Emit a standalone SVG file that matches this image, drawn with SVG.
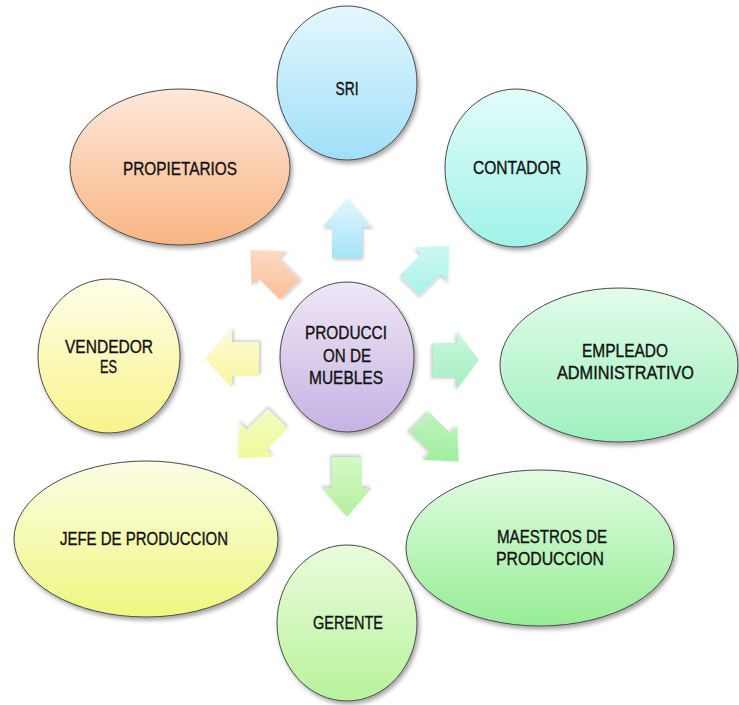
<svg xmlns="http://www.w3.org/2000/svg" width="739" height="705" viewBox="0 0 739 705">
<style>
.n{stroke:#4a4a4a;stroke-width:1;filter:url(#sh)}
.t{font-family:"Liberation Sans","Open Sans",Arial,sans-serif;font-size:18px;fill:#111;stroke:#111;stroke-width:0.35;text-anchor:middle}
.a{filter:url(#ash)}
</style>
<defs>
<filter id="sh" x="-20%" y="-20%" width="140%" height="140%"><feDropShadow dx="2" dy="3" stdDeviation="2" flood-color="#000" flood-opacity="0.35"/></filter>
<filter id="ash" x="-30%" y="-30%" width="160%" height="160%"><feDropShadow dx="1.5" dy="2" stdDeviation="1.5" flood-color="#000" flood-opacity="0.2"/></filter>
<linearGradient id="gSri" x1="0" y1="0" x2="0" y2="1"><stop offset="0" stop-color="#e4f7fe"/><stop offset="1" stop-color="#9fdff8"/></linearGradient>
<linearGradient id="gPro" x1="0" y1="0" x2="0" y2="1"><stop offset="0" stop-color="#fde8da"/><stop offset="1" stop-color="#f9b583"/></linearGradient>
<linearGradient id="gCon" x1="0" y1="0" x2="0" y2="1"><stop offset="0" stop-color="#e2fdf9"/><stop offset="1" stop-color="#9ff3e9"/></linearGradient>
<linearGradient id="gEmp" x1="0" y1="0" x2="0" y2="1"><stop offset="0" stop-color="#e2fcea"/><stop offset="1" stop-color="#9ef0bd"/></linearGradient>
<linearGradient id="gMae" x1="0" y1="0" x2="0" y2="1"><stop offset="0" stop-color="#e2fce2"/><stop offset="1" stop-color="#96ed96"/></linearGradient>
<linearGradient id="gGer" x1="0" y1="0" x2="0" y2="1"><stop offset="0" stop-color="#eafcdc"/><stop offset="1" stop-color="#b8f39c"/></linearGradient>
<linearGradient id="gJef" x1="0" y1="0" x2="0" y2="1"><stop offset="0" stop-color="#fbfde4"/><stop offset="1" stop-color="#eef880"/></linearGradient>
<linearGradient id="gVen" x1="0" y1="0" x2="0" y2="1"><stop offset="0" stop-color="#fffeea"/><stop offset="1" stop-color="#f8f38a"/></linearGradient>
<linearGradient id="gCen" x1="0" y1="0" x2="0" y2="1"><stop offset="0" stop-color="#eee7f5"/><stop offset="1" stop-color="#c6b2e3"/></linearGradient>
<linearGradient id="aUp" x1="0" y1="0" x2="0" y2="1"><stop offset="0" stop-color="#e2f7fe"/><stop offset="1" stop-color="#a6e3f8"/></linearGradient>
<linearGradient id="aUL" x1="1" y1="0" x2="0" y2="1"><stop offset="0" stop-color="#fde2d2"/><stop offset="1" stop-color="#f9bc92"/></linearGradient>
<linearGradient id="aUR" x1="0" y1="0" x2="1" y2="1"><stop offset="0" stop-color="#dcfbf7"/><stop offset="1" stop-color="#a2f1e6"/></linearGradient>
<linearGradient id="aR" x1="0" y1="0" x2="1" y2="0"><stop offset="0" stop-color="#c9f8dc"/><stop offset="1" stop-color="#a4efc4"/></linearGradient>
<linearGradient id="aLR" x1="0" y1="1" x2="1" y2="0"><stop offset="0" stop-color="#c6f5c6"/><stop offset="1" stop-color="#92ec92"/></linearGradient>
<linearGradient id="aD" x1="0" y1="1" x2="0" y2="0"><stop offset="0" stop-color="#d6f9c6"/><stop offset="1" stop-color="#b2f09e"/></linearGradient>
<linearGradient id="aLL" x1="1" y1="1" x2="0" y2="0"><stop offset="0" stop-color="#f4fcc8"/><stop offset="1" stop-color="#eef88e"/></linearGradient>
<linearGradient id="aL" x1="1" y1="0" x2="0" y2="0"><stop offset="0" stop-color="#fdfcd4"/><stop offset="1" stop-color="#f8f4a0"/></linearGradient>
<path id="vArrow" d="M0,-30 L25,-1 L15,-1 L15,30 L-15,30 L-15,-1 L-25,-1 Z"/>
<path id="dArrow" d="M0,-28 L24,-2 L14,-2 L14,28 L-14,28 L-14,-2 L-24,-2 Z"/>
</defs>
<rect width="739" height="705" fill="#fff"/>

<g id="connectors">
<use href="#vArrow" class="a" fill="url(#aUp)" transform="translate(347,228)"/>
<use href="#vArrow" class="a" fill="url(#aD)" transform="translate(347,487) rotate(180)"/>
<path class="a" fill="url(#aL)" d="M0,-27 L29,0 L17,0 L17,27 L-17,27 L-17,0 L-29,0 Z" transform="translate(232,359) rotate(-90)"/>
<path class="a" fill="url(#aR)" d="M0,-23 L29,-1 L17,-1 L17,23 L-17,23 L-17,-1 L-29,-1 Z" transform="translate(456,360) rotate(90)"/>
<use href="#dArrow" class="a" fill="url(#aUL)" transform="translate(270,270) rotate(-45)"/>
<use href="#dArrow" class="a" fill="url(#aUR)" transform="translate(429.5,265.5) rotate(45)"/>
<use href="#dArrow" class="a" fill="url(#aLL)" transform="translate(258,438.5) rotate(-135)"/>
<use href="#dArrow" class="a" fill="url(#aLR)" transform="translate(439,441.5) rotate(135)"/>
</g>

<g id="propietarios">
<ellipse class="n" cx="180" cy="167" rx="110" ry="78" fill="url(#gPro)"/>
<text class="t" x="180" y="175" textLength="114" lengthAdjust="spacingAndGlyphs">PROPIETARIOS</text>
</g>
<g id="sri">
<ellipse class="n" cx="347" cy="83" rx="70" ry="77" fill="url(#gSri)"/>
<text class="t" x="347" y="95" textLength="23" lengthAdjust="spacingAndGlyphs">SRI</text>
</g>
<g id="contador">
<ellipse class="n" cx="516" cy="168" rx="71" ry="79" fill="url(#gCon)"/>
<text class="t" x="517" y="174" textLength="88" lengthAdjust="spacingAndGlyphs">CONTADOR</text>
</g>
<g id="empleado">
<ellipse class="n" cx="619" cy="365" rx="119" ry="77" fill="url(#gEmp)"/>
<text class="t" x="625" y="357" textLength="86" lengthAdjust="spacingAndGlyphs">EMPLEADO</text>
<text class="t" x="625.5" y="379" textLength="137" lengthAdjust="spacingAndGlyphs">ADMINISTRATIVO</text>
</g>
<g id="vendedores">
<ellipse class="n" cx="109" cy="356" rx="71" ry="77" fill="url(#gVen)"/>
<text class="t" x="109" y="353" textLength="88" lengthAdjust="spacingAndGlyphs">VENDEDOR</text>
<text class="t" x="108.5" y="373" textLength="17" lengthAdjust="spacingAndGlyphs">ES</text>
</g>
<g id="centro">
<ellipse class="n" cx="347" cy="357" rx="67" ry="75" fill="url(#gCen)"/>
<text class="t" x="346" y="339" textLength="82" lengthAdjust="spacingAndGlyphs">PRODUCCI</text>
<text class="t" x="347" y="362" textLength="48" lengthAdjust="spacingAndGlyphs">ON DE</text>
<text class="t" x="346" y="384" textLength="74" lengthAdjust="spacingAndGlyphs">MUEBLES</text>
</g>
<g id="jefe">
<ellipse class="n" cx="146" cy="539" rx="132" ry="78" fill="url(#gJef)"/>
<text class="t" x="144" y="545" textLength="168" lengthAdjust="spacingAndGlyphs">JEFE DE PRODUCCION</text>
</g>
<g id="gerente">
<ellipse class="n" cx="347" cy="623" rx="70" ry="78" fill="url(#gGer)"/>
<text class="t" x="348" y="629" textLength="70" lengthAdjust="spacingAndGlyphs">GERENTE</text>
</g>
<g id="maestros">
<ellipse class="n" cx="540" cy="548" rx="134" ry="78" fill="url(#gMae)"/>
<text class="t" x="552" y="543" textLength="110" lengthAdjust="spacingAndGlyphs">MAESTROS DE</text>
<text class="t" x="550" y="565" textLength="108" lengthAdjust="spacingAndGlyphs">PRODUCCION</text>
</g>
</svg>
